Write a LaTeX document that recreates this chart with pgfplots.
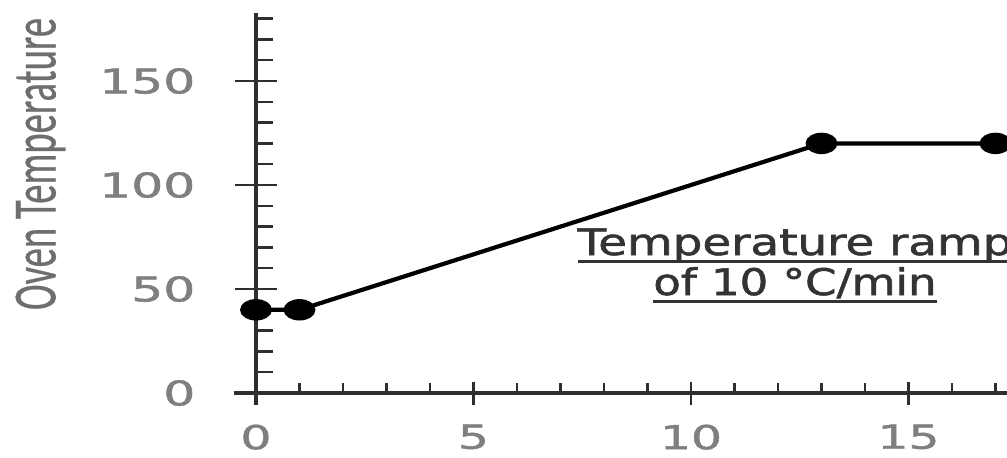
\documentclass[border=0pt]{standalone}
\usepackage{pgfplots}
\pgfplotsset{compat=1.18}
\usepackage{graphicx}
\usepackage{fontspec}
\setmainfont{DejaVu Sans}
\newfontfamily\tickfont{DejaVu Sans}[FakeBold=1.2]
\newfontfamily\labfont{Carlito}[FakeBold=0.6]
\newfontfamily\annfont{DejaVu Sans}[FakeBold=1.4]
\definecolor{tickgray}{HTML}{7F7F7F}
\definecolor{labgray}{HTML}{6E6E6E}
\definecolor{axcol}{HTML}{2E2E2E}
\definecolor{anncol}{HTML}{333333}
\newcommand\sx[1]{\scalebox{1.48}[1]{#1}}
\newcommand\ul[1]{\setbox0\hbox{#1}\rlap{\rule[-3.75pt]{\wd0}{1.1pt}}\box0}
\begin{document}
\begin{tikzpicture}
\useasboundingbox (0,0) rectangle (503.5pt,228.5pt);
\clip (0,0) rectangle (503.5pt,228.5pt);
\begin{axis}[
  at={(128pt,32pt)}, anchor=origin,
  x=21.75pt, y=1.04pt,
  xmin=-0.5, xmax=17.6, ymin=-6, ymax=182.6,
  enlargelimits=false,
  axis lines=middle,
  axis line style={-, color=axcol, line width=1.6pt},
  hide obscured x ticks=false, hide obscured y ticks=false,
  xtick={0,5,10,15}, xticklabels={\sx{0},\sx{5},\sx{10},\sx{15}},
  ytick={0,50,100,150}, yticklabels={\sx{0},\sx{50},\sx{100},\sx{150}},
  minor xtick={1,2,3,4,6,7,8,9,11,12,13,14,16,17},
  minor ytick={10,20,30,40,60,70,80,90,110,120,130,140,160,170,180},
  tick align=center,
  major x tick style={/pgfplots/major tick length=11.5pt, color=axcol, line width=1.2pt},
  major y tick style={/pgfplots/major tick length=21pt, color=axcol, line width=1.2pt},
  minor x tick style={/pgfplots/minor tick length=5pt, yshift=2.5pt, color=axcol, line width=1.2pt},
  minor y tick style={/pgfplots/minor tick length=8.5pt, xshift=4.25pt, color=axcol, line width=1.2pt},
  xticklabel style={anchor=north, inner sep=0pt, yshift=-13.5pt, font=\tickfont\fontsize{16.5pt}{18pt}\selectfont, color=tickgray},
  yticklabel style={anchor=east, inner sep=0pt, xshift=-28pt, font=\tickfont\fontsize{17pt}{19pt}\selectfont, color=tickgray},
  clip=false,
]
\addplot[color=black, line width=2.1pt, mark=*, mark size=4.3pt, mark options={xscale=1.6, solid, fill=black}]
  coordinates {(0,40) (1,40) (13,120) (17,120)};
\end{axis}
\node[rotate=90, color=labgray, inner sep=0pt] at (20.25pt,146.5pt) {\resizebox{146pt}{20pt}{\labfont Oven Temperature}};
\node[anchor=base, inner sep=0pt, color=anncol] at (397.5pt,101pt) {\annfont\fontsize{18.3pt}{20pt}\selectfont\ul{\scalebox{1.28}[1]{Temperature ramp}}};
\node[anchor=base, inner sep=0pt, color=anncol] at (397.5pt,81pt) {\annfont\fontsize{18.3pt}{20pt}\selectfont\ul{\scalebox{1.23}[1]{of 10 °C/min}}};
\end{tikzpicture}
\end{document}
